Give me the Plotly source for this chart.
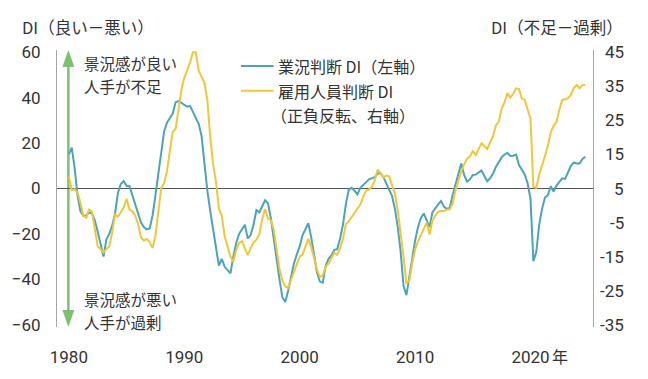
import plotly.graph_objects as go

# 業況判断DI（全規模全産業, 左軸）, quarterly from 1980Q1
gyoukyou = [
    15, 18, 9, -3, -10, -12, -12, -10.5, -11, -14, -19, -24, -30, -22.5, -20, -16.5,
    -11, -2, 2, 3.3, 1.2, 1, -3, -8, -12, -15, -17, -18, -17.6, -12, -3, 7,
    16, 25, 29, 31, 33, 38, 38.5, 37.7, 36.8, 36, 36.4, 34, 31.3, 28.5, 23, 9.5,
    -1, -10, -19, -26, -34, -31, -34.5, -36, -37.4, -30, -24, -20, -18, -16, -22, -20.5,
    -16, -9.5, -10.5, -8, -5.2, -6.5, -13, -22, -31.5, -40, -48, -50, -45, -38.5, -33, -29,
    -25.5, -20.5, -17.5, -15.3, -21.5, -29, -37, -41, -41.5, -34, -31, -29.5, -27, -26.7, -22, -16,
    -7, -0.5, 0.3, -1, -2.6, 0.3, 1.7, 2.7, 4, 4.5, 5, 6.5, 6.8, 5, 2.5, -0.5,
    -3.2, -9, -17, -28, -43, -47, -39, -30, -23, -17, -13, -11, -14, -17, -10.5, -8.5,
    -7, -5.5, -8, -9, -8.5, -3, 2, 6.5, 11, 6, 3, 4, 6, 6.1, 7, 7.9,
    5.5, 3.2, 4.5, 6.5, 9.5, 11.8, 13.7, 15, 15.7, 14.3, 14.4, 14.9, 10.3, 8.3, 6.2, 2.3,
    -4.5, -32, -28, -16, -9, -4, -3, 1, -1.3, 1.3, 3, 4.5, 4.2, 7, 10, 11.5,
    11, 11, 13, 14,
]

# 雇用人員判断DI（正負反転, 右軸）
koyou = [
    8.6, 4.5, 4.8, 3.8, 0.8, -3, -3.6, -1.2, -1.8, -6.4, -12, -12.8, -13.8, -12.8, -12, -8,
    -2.6, -3.3, -2, -0.6, 2, -1.2, -1.7, -3, -5.5, -9.3, -10.3, -9.8, -10.7, -12.5, -9, -1,
    5.2, 6.5, 10, 16, 21.7, 22.5, 28, 34, 37.5, 39.5, 42, 45, 45, 39.5, 37.5, 36,
    31, 20, 12, 7, -1, -3, -9, -12, -15, -16.5, -13, -11, -10.5, -12.5, -14.6, -12.5,
    -10.9, -10, -8.5, -4, -1, -3.8, -4.3, -7, -12.5, -18.6, -22, -23.8, -24.2, -22, -19.5, -17.6,
    -15, -14.4, -12, -9.7, -12.2, -16, -18.8, -21, -20.5, -18, -17, -15.5, -13.9, -14.5, -12.5, -9.8,
    -5.5, -4.6, -3.3, -2, -0.7, 0.3, 2.5, 4.4, 4.7, 5.5, 7.3, 10.5, 9.5, 8.2, 8.8, 8.6,
    6, 3.5, -1.5, -8, -15, -23, -22, -17, -13, -10.5, -8.5, -6.5, -5, -8.5, -4.5, -3,
    -1.8, -1.6, -1.6, -1.2, -1.1, 0.5, 4.5, 7.2, 10, 12, 13.7, 14.4, 16, 14.8, 16.5, 18.3,
    17.4, 16.6, 18.5, 20.3, 23.5, 24.6, 28.5, 30.3, 33, 31.7, 32.8, 34.4, 34.2, 31.5, 31, 28.5,
    25.5, 5.5, 5.2, 9, 11.5, 14.5, 17.5, 21.5, 23.4, 24.5, 28.1, 31, 31.2, 31.5, 32.5, 34.5,
    35.4, 34.4, 35.4, 35.4,
]

quarters = [1980 + i / 4 for i in range(len(gyoukyou))]

year_ticks = [1980, 1990, 2000, 2010, 2020]
year_labels = ["1980", "1990", "2000", "2010", "2020"]
left_ticks = [60, 40, 20, 0, -20, -40, -60]
right_ticks = [45, 35, 25, 15, 5, -5, -15, -25, -35]

BLUE = "#4fa3b9"
YELLOW = "#efc73c"
GREEN = "#7dc06f"
TXT = "#333333"
FONT = "Roboto, 'Noto Sans CJK JP', sans-serif"
JFONT = "'Noto Sans CJK JP', Roboto, sans-serif"

# figure fills the 648x379 window exactly (body margin removed below)
W, H = 648, 379
PL, PR, PT, PB = 51, 593, 50, 328      # plot area in page pixels
L, T, R, B = PL, PT, W - PR, H - PB
pw, ph = PR - PL, PB - PT


def px(x):
    return (x - PL) / pw


def py(y):
    return (PB - y) / ph


PX_PER_YEAR = 11.67
x0 = 1980 - (63 - PL) / PX_PER_YEAR
x1 = x0 + pw / PX_PER_YEAR

fig = go.Figure()
fig.add_trace(go.Scatter(x=quarters, y=gyoukyou, mode="lines",
                         line=dict(color=BLUE, width=2), yaxis="y", showlegend=False))
fig.add_trace(go.Scatter(x=quarters, y=koyou, mode="lines",
                         line=dict(color=YELLOW, width=2), yaxis="y2", showlegend=False))

ann = []


def text(s, x, y, xanchor="left", size=16.5, font=JFONT):
    ann.append(dict(text=s, x=px(x), y=py(y), xref="paper", yref="paper",
                    xanchor=xanchor, yanchor="middle", showarrow=False, align="left",
                    font=dict(family=font, size=size, color=TXT)))


text("DI（良い－悪い）", 14, 27)
text("DI（不足－過剰）", 625, 27, xanchor="right")
text("景況感が良い", 76, 63.5, size=15.5)
text("人手が不足", 76, 86, size=15.5)
text("景況感が悪い", 76, 300, size=15.5)
text("人手が過剰", 76, 322.5, size=15.5)
text("業況判断 DI（左軸）", 272, 66, size=16)
text("雇用人員判断 DI", 272, 91, size=16)
text("（正負反転、右軸）", 265, 115, size=16)
text("年", 550, 357, size=16)

for v in right_ticks:
    ann.append(dict(text=str(v), x=px(626), y=v, xref="paper", yref="y2",
                    xanchor="right", yanchor="middle", showarrow=False,
                    font=dict(family=FONT, size=17, color=TXT)))

shapes = [
    # legend line samples
    dict(type="line", xref="paper", yref="paper", x0=px(237), x1=px(270), y0=py(66), y1=py(66),
         line=dict(color=BLUE, width=2)),
    dict(type="line", xref="paper", yref="paper", x0=px(237), x1=px(270), y0=py(91), y1=py(91),
         line=dict(color=YELLOW, width=2)),
    # green double arrow
    dict(type="line", xref="paper", yref="paper", x0=px(62.5), x1=px(62.5), y0=py(62), y1=py(316),
         line=dict(color=GREEN, width=2.5), layer="below"),
    dict(type="path", xref="paper", yref="paper", fillcolor=GREEN, line=dict(width=0),
         path=f"M {px(62.5)},{py(50)} L {px(56.5)},{py(67)} L {px(68.5)},{py(67)} Z"),
    dict(type="path", xref="paper", yref="paper", fillcolor=GREEN, line=dict(width=0),
         path=f"M {px(62.5)},{py(328)} L {px(56.5)},{py(311)} L {px(68.5)},{py(311)} Z"),
]

fig.update_layout(
    width=W, height=H,
    margin=dict(l=L, r=R, t=T, b=B),
    paper_bgcolor="white", plot_bgcolor="white",
    font=dict(family=FONT, color=TXT),
    xaxis=dict(range=[x0, x1], showgrid=False, zeroline=False, showline=False,
               tickvals=year_ticks, ticktext=year_labels, ticks="",
               tickfont=dict(size=17, color=TXT, family=FONT), ticklabelstandoff=18),
    yaxis=dict(range=[-61, 61], showgrid=False, zeroline=True, zerolinecolor="#555555",
               zerolinewidth=1, showline=True, linecolor="#a6a6a6", linewidth=1,
               tickvals=left_ticks, ticks="", ticklabelstandoff=12,
               tickfont=dict(size=17, color=TXT, family=FONT)),
    yaxis2=dict(range=[-35.6667, 45.6667], overlaying="y", side="right", showgrid=False,
                zeroline=False, showline=True, linecolor="#a6a6a6", linewidth=1,
                showticklabels=False, ticks=""),
    annotations=ann,
    shapes=shapes,
    showlegend=False,
)

fig.write_html(
    "out.html",
    config={"displayModeBar": False},
    post_script="document.body.style.margin='0';document.documentElement.style.overflow='hidden';",
)
